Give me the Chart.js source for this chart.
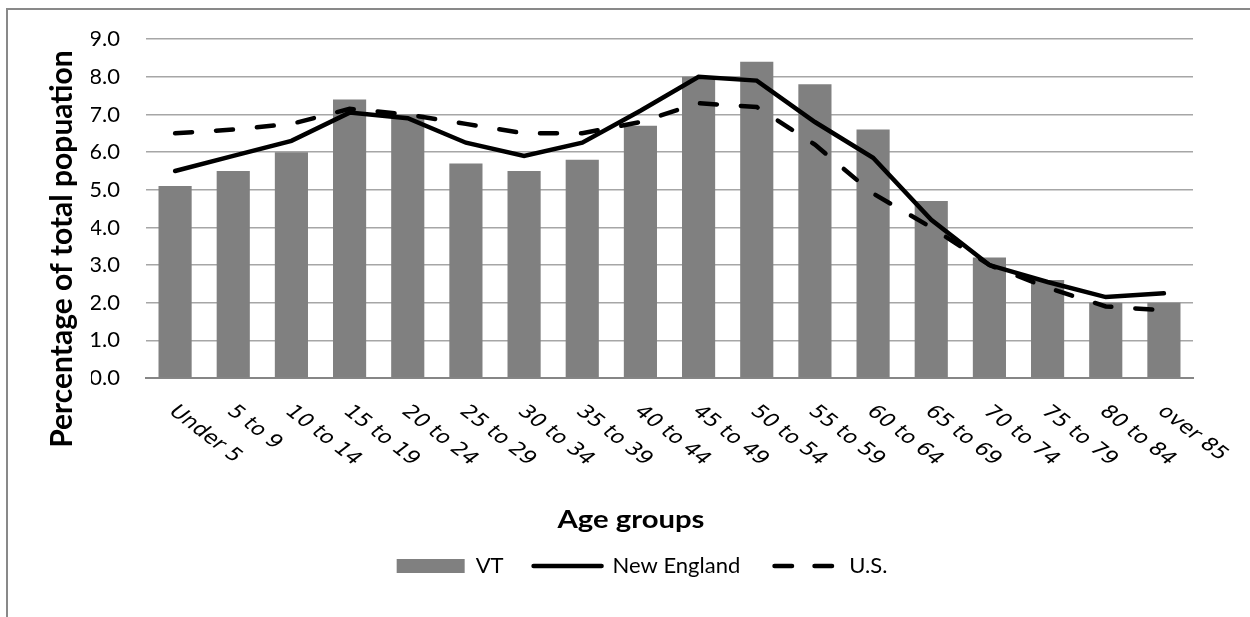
<!DOCTYPE html>
<html>
<head>
<meta charset="utf-8">
<title>Population by age group: VT, New England, U.S.</title>
<script src="https://cdn.jsdelivr.net/npm/chart.js@4/dist/chart.umd.min.js"></script>
<style>
  html, body { margin: 0; padding: 0; background: #fff; overflow: hidden; }
  canvas { display: block; }
</style>
</head>
<body>
<canvas id="chart" width="1250" height="617"></canvas>
<script>
// Age group categories
const ageGroups = ['Under 5', '5 to 9', '10 to 14', '15 to 19', '20 to 24', '25 to 29',
  '30 to 34', '35 to 39', '40 to 44', '45 to 49', '50 to 54', '55 to 59',
  '60 to 64', '65 to 69', '70 to 74', '75 to 79', '80 to 84', 'over 85'];

// Share of total population in each age group (%)
const vtShare         = [5.1, 5.5, 6.0, 7.4, 7.0, 5.7, 5.5, 5.8, 6.7, 8.0, 8.4, 7.8, 6.6, 4.7, 3.2, 2.6, 2.0, 2.0];
const newEnglandShare = [5.5, 5.9, 6.3, 7.05, 6.9, 6.25, 5.9, 6.25, 7.1, 8.0, 7.9, 6.8, 5.85, 4.2, 3.0, 2.55, 2.15, 2.25];
const usShare         = [6.5, 6.6, 6.75, 7.15, 7.0, 6.75, 6.5, 6.5, 6.8, 7.3, 7.2, 6.2, 4.9, 4.0, 3.0, 2.4, 1.9, 1.8];

// Value axis range
const yMin = 0;
const yMax = 9;
const yStep = 1;

const xAxisTitle = 'Age groups';
const yAxisTitle = 'Percentage of total popuation';

// Frame, slanted category labels and axis titles
const decorations = {
  id: 'decorations',
  beforeDraw(chart) {
    const ctx = chart.ctx;
    ctx.save();
    ctx.fillStyle = '#ffffff';
    ctx.fillRect(0, 0, chart.width, chart.height);
    ctx.strokeStyle = '#898989';
    ctx.lineWidth = 2;
    ctx.strokeRect(7, 9, chart.width + 40, chart.height + 40);
    ctx.restore();
  },
  afterDraw(chart) {
    const ctx = chart.ctx;
    const xs = chart.scales.x;
    const area = chart.chartArea;
    ctx.save();
    ctx.fillStyle = '#000000';

    // category labels, slanted down to the right
    ctx.font = '18px "DejaVu Sans"';
    ctx.textAlign = 'left';
    ctx.textBaseline = 'middle';
    ageGroups.forEach((label, i) => {
      const x = xs.getPixelForTick(i);
      ctx.save();
      ctx.translate(x - 3, area.bottom + 31);
      ctx.scale(1.3, 1);
      ctx.rotate(Math.PI / 4);
      ctx.fillText(label, 0, 0);
      ctx.restore();
    });

    // category axis title
    ctx.save();
    ctx.font = 'bold 25px Lato';
    ctx.textAlign = 'center';
    ctx.textBaseline = 'alphabetic';
    ctx.translate(631, area.bottom + 150);
    ctx.scale(1.17, 1);
    ctx.fillText(xAxisTitle, 0, 0);
    ctx.restore();

    // value axis title
    ctx.save();
    ctx.font = 'bold 30px Lato';
    ctx.textAlign = 'center';
    ctx.textBaseline = 'middle';
    ctx.translate(62, 249);
    ctx.rotate(-Math.PI / 2);
    ctx.fillText(yAxisTitle, 0, 0);
    ctx.restore();

    ctx.restore();
  }
};

// Legend entries: a filled swatch for the bars, line samples for the two lines
function legendItems(chart) {
  const items = Chart.defaults.plugins.legend.labels.generateLabels(chart);
  items.forEach((item) => {
    const ds = chart.data.datasets[item.datasetIndex];
    if (ds.type === 'line') {
      item.lineWidth = ds.borderWidth;
      item.lineCap = 'round';
      item.lineDash = ds.borderDash ? [17.5, 22.5] : [];
      item.lineDashOffset = ds.borderDash ? -4.25 : 0;
    }
  });
  return items;
}

Chart.defaults.font.family = 'Lato';
Chart.defaults.color = '#000000';

new Chart(document.getElementById('chart'), {
  type: 'bar',
  data: {
    labels: ageGroups,
    datasets: [
      {
        type: 'bar',
        label: 'VT',
        data: vtShare,
        backgroundColor: '#808080',
        borderWidth: 0,
        categoryPercentage: 1.0,
        barPercentage: 0.57,
        pointStyle: 'rect',
        order: 3
      },
      {
        type: 'line',
        label: 'New England',
        data: newEnglandShare,
        borderColor: '#000000',
        backgroundColor: '#000000',
        borderWidth: 4.5,
        borderCapStyle: 'round',
        tension: 0,
        fill: false,
        pointRadius: 0,
        pointHoverRadius: 0,
        pointStyle: 'line',
        order: 1
      },
      {
        type: 'line',
        label: 'U.S.',
        data: usShare,
        borderColor: '#000000',
        backgroundColor: '#000000',
        borderWidth: 4.5,
        borderDash: [17, 24],
        borderCapStyle: 'round',
        tension: 0,
        fill: false,
        pointRadius: 0,
        pointHoverRadius: 0,
        pointStyle: 'line',
        order: 2
      }
    ]
  },
  options: {
    responsive: false,
    animation: false,
    devicePixelRatio: 1,
    layout: { padding: { top: 38, left: 91, right: 57, bottom: 30 } },
    plugins: {
      legend: {
        position: 'bottom',
        labels: {
          font: { family: 'Lato', size: 22 },
          color: '#000000',
          usePointStyle: true,
          pointStyleWidth: 68,
          boxHeight: 14,
          padding: 30,
          sort: (a, b) => a.datasetIndex - b.datasetIndex,
          generateLabels: legendItems
        }
      },
      tooltip: { enabled: false }
    },
    scales: {
      x: {
        offset: true,
        grid: { display: false },
        border: { display: true, color: '#868686', width: 2 },
        ticks: { display: false },
        afterFit: (scale) => { scale.height = 147; }
      },
      y: {
        min: yMin,
        max: yMax,
        grid: { color: '#a6a6a6', lineWidth: 1.5, drawTicks: false },
        border: { display: false },
        ticks: {
          stepSize: yStep,
          padding: 26,
          color: '#000000',
          font: { family: 'Lato', size: 22 },
          callback: (v) => Number(v).toFixed(1)
        },
        afterFit: (scale) => { scale.width = 55; }
      }
    }
  },
  plugins: [decorations]
});
</script>
</body>
</html>
